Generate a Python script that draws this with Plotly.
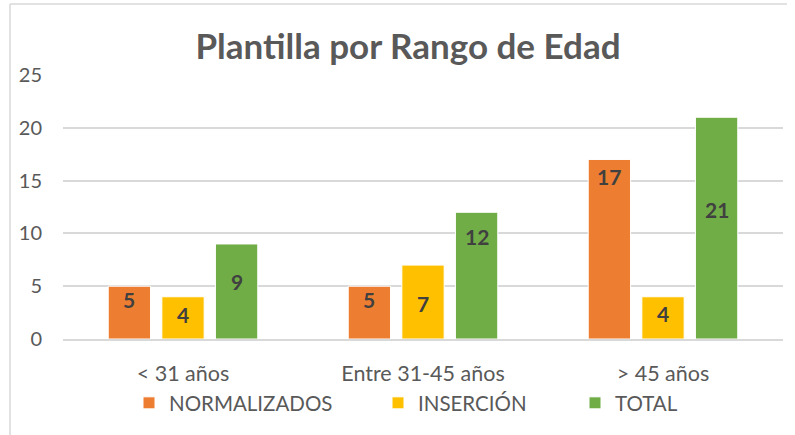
import plotly.graph_objects as go

categories = ["< 31 años", "Entre 31-45 años", "> 45 años"]
series_names = ["NORMALIZADOS", "INSERCIÓN", "TOTAL"]
normalizados = [5, 5, 17]
insercion = [4, 7, 4]
total = [9, 12, 21]
y_ticks = [0, 5, 10, 15, 20, 25]

series_values = [normalizados, insercion, total]
colors = ["#ED7D31", "#FFC000", "#70AD47"]
# pixel offset of each data label below its bar top (as placed in the original)
label_offsets = [[13, 13, 17], [18, 38, 17], [38, 24, 92]]

W, H = 795, 435
ML, MR, MT, MB = 63, 12, 75, 96
PW = W - ML - MR
PH = H - MT - MB
BARGAP = 0.33
FONT = "Lato"
TXT = "#595959"

fig = go.Figure()
for name, vals, col, leg in zip(series_names, series_values, colors, ["legend", "legend2", "legend3"]):
    fig.add_trace(go.Bar(
        x=categories, y=vals, name=name,
        marker=dict(color=col, line=dict(color="white", width=1)),
        legend=leg,
    ))

slot_px = PW / len(categories) * (1 - BARGAP) / len(series_names)
for si, vals in enumerate(series_values):
    for ci, v in enumerate(vals):
        fig.add_annotation(
            x=categories[ci], y=v, text=f"<b>{v}</b>", showarrow=False,
            xref="x", yref="y", yanchor="middle",
            xshift=(si - 1) * slot_px, yshift=-label_offsets[si][ci],
            font=dict(family=FONT, size=21, color="#404040"),
        )

def px_x(p):
    return (p - ML) / PW

def px_y(p):
    return (H - MB - p) / PH

# chart border (left and top edges visible in the crop)
fig.add_shape(type="line", xref="paper", yref="paper",
              x0=px_x(10), x1=px_x(787), y0=px_y(4), y1=px_y(4),
              line=dict(color="#D9D9D9", width=1.5))
fig.add_shape(type="line", xref="paper", yref="paper",
              x0=px_x(10), x1=px_x(10), y0=px_y(4), y1=px_y(440),
              line=dict(color="#D9D9D9", width=1.5))

legend_common = dict(orientation="h", yanchor="middle", xanchor="left",
                     font=dict(family=FONT, size=20.5, color=TXT),
                     bgcolor="rgba(0,0,0,0)", borderwidth=0, itemwidth=30)
leg_px = [129, 378, 575]
legends = {}
for key, p in zip(["legend", "legend2", "legend3"], leg_px):
    legends[key] = dict(legend_common, x=px_x(p), y=px_y(403))

fig.update_layout(
    width=W, height=H,
    margin=dict(l=ML, r=MR, t=MT, b=MB, autoexpand=False),
    paper_bgcolor="white", plot_bgcolor="white",
    barmode="group", bargap=BARGAP, bargroupgap=0.21,
    title=dict(text="<b>Plantilla por Rango de Edad</b>", xref="container", x=408 / W,
               xanchor="center", y=1 - 47 / H, yanchor="middle",
               font=dict(family=FONT, size=35, color=TXT)),
    font=dict(family=FONT, color=TXT),
    showlegend=True,
    **legends,
)
fig.update_xaxes(showgrid=False, showline=True, linecolor="#D9D9D9", linewidth=1.5,
                 ticks="", tickfont=dict(family=FONT, size=21.5, color=TXT),
                 ticklabelstandoff=14)
fig.update_yaxes(range=[0, 25], tickvals=y_ticks, showgrid=True, gridcolor="#D9D9D9",
                 gridwidth=1.5, zeroline=False, showline=False, ticks="",
                 tickfont=dict(family=FONT, size=20, color=TXT), ticklabelstandoff=20)

fig.write_html("out.html", config={"displayModeBar": False},
               post_script="document.body.style.margin='0';")
